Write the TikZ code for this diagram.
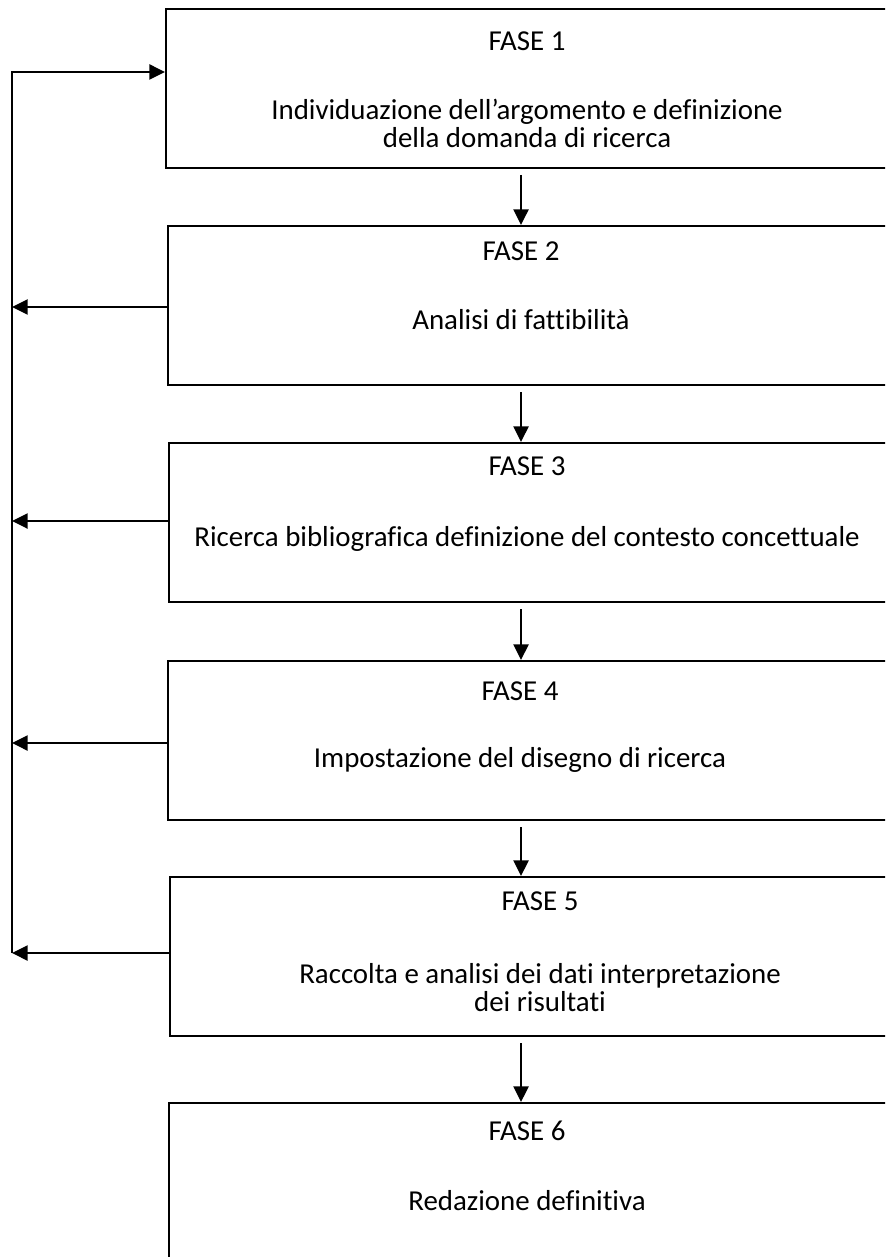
\documentclass[tikz,border=0pt]{standalone}
\usepackage{fontspec}
\setmainfont{Carlito}[Ligatures={TeX,NoCommon}]
\usetikzlibrary{arrows.meta,calc}
\tikzset{
  fase/.style={draw, line width=0.9pt, anchor=north west, inner sep=0pt,
    minimum width=325.35pt, minimum height=71.55pt},
  testo/.style={align=center, anchor=north, inner sep=0pt,
    font=\fontsize{13}{12.6}\selectfont},
  freccia/.style={line width=0.75pt, -{Triangle[length=7pt,width=6.8pt]}}
}
\begin{document}
\begin{tikzpicture}[x=0.45pt,y=-0.45pt]
  \useasboundingbox (0,0) rectangle (885,1257);
  \clip (0,0) rectangle (885,1257);
  % phase boxes (right side runs off the page)
  \node[fase] (f1) at (165,8) {};
  \node[fase] (f2) at (167,225) {};
  \node[fase] (f3) at (168,442) {};
  \node[fase] (f4) at (167,660) {};
  \node[fase] (f5) at (169,876) {};
  \node[fase, minimum height=90pt] (f6) at (168,1102) {};
  % texts
  \node[testo] (t1) at (527,31) {FASE 1\\[18.5pt]Individuazione dell’argomento e definizione\\della domanda di ricerca};
  \node[testo] (t2) at (521,241) {FASE 2\\[18.5pt]Analisi di fattibilità};
  \node[testo] (t3) at (527,456) {FASE 3\\[19.5pt]Ricerca bibliografica definizione del contesto concettuale};
  \node[testo] (t4) at (520,681) {FASE 4\\[17.5pt]Impostazione del disegno di ricerca};
  \node[testo] (t5) at (540,891) {FASE 5\\[20.5pt]Raccolta e analisi dei dati interpretazione\\dei risultati};
  \node[testo] (t6) at (527,1121) {FASE 6\\[18.5pt]Redazione definitiva};
  % arrows down the chain
  \coordinate (mid) at (521,0);
  \foreach \a/\b in {f1/f2,f2/f3,f3/f4,f4/f5,f5/f6}
    \draw[freccia] ($(\a.south -| mid)+(0,6)$) -- (\b.north -| mid);
  % feedback line back to phase 1
  \coordinate (top) at (12,72);
  \coordinate (bot) at (12,953);
  \draw[freccia] (bot) -- (top) -- (top -| f1.west);
  \foreach \k/\y in {2/307,3/521,4/743,5/953}{
    \coordinate (r\k) at (12,\y);
    \draw[freccia] (r\k -| f\k.west) -- (r\k);
  }
\end{tikzpicture}
\end{document}
